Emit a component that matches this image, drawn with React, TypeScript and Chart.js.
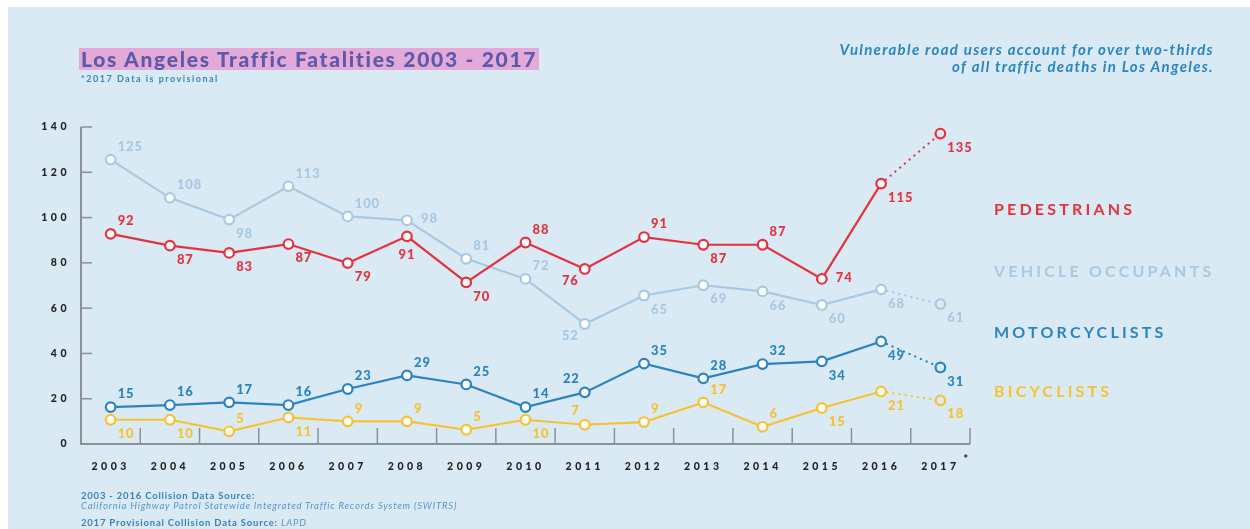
import React, { useEffect, useRef } from "react";
import { Chart, registerables } from "chart.js";

Chart.register(...registerables);

const years = ["2003", "2004", "2005", "2006", "2007", "2008", "2009", "2010", "2011", "2012", "2013", "2014", "2015", "2016", "2017"];

// plotted positions
const pedestrians = [92.8, 87.6, 84.4, 88.3, 79.9, 91.7, 71.4, 89.0, 77.3, 91.4, 88.0, 88.0, 72.9, 115.0, 137.1];
const vehicleOccupants = [125.6, 108.7, 99.1, 113.8, 100.5, 98.8, 81.8, 72.9, 53.0, 65.6, 70.1, 67.4, 61.4, 68.3, 61.8];
const motorcyclists = [16.3, 17.2, 18.4, 17.2, 24.3, 30.3, 26.3, 16.3, 22.8, 35.5, 29.0, 35.3, 36.5, 45.3, 33.8];
const bicyclists = [10.7, 10.7, 5.6, 11.7, 10.0, 10.0, 6.3, 10.7, 8.5, 9.7, 18.4, 7.6, 15.9, 23.2, 19.3];

// printed value labels
const pedestrianLabels = [92, 87, 83, 87, 79, 91, 70, 88, 76, 91, 87, 87, 74, 115, 135];
const vehicleLabels = [125, 108, 98, 113, 100, 98, 81, 72, 52, 65, 69, 66, 60, 68, 61];
const motorcyclistLabels = [15, 16, 17, 16, 23, 29, 25, 14, 22, 35, 28, 32, 34, 49, 31];
const bicyclistLabels = [10, 10, 5, 11, 9, 9, 5, 10, 7, 9, 17, 6, 15, 21, 18];

const yTicks = [0, 20, 40, 60, 80, 100, 120, 140];

// label placement codes (style, not data)
const pedPlace = ["ar", "br", "br", "br", "br", "b", "br", "ar", "bl", "ar", "br", "ar", "r", "br", "br"];
const vehPlace = ["ar", "ar", "br", "ar", "ar", "r", "ar", "ar", "bl", "br", "br", "br", "br", "br", "br"];
const motPlace = ["ar", "ar", "ar", "ar", "ar", "ar", "ar", "ar", "al", "ar", "ar", "ar", "br", "br", "br"];
const bicPlace = ["br", "br", "ar", "br", "ar", "ar", "ar", "br", "al", "ar", "ar", "ar", "br", "br", "br"];

const BG = "#d9eaf4";
const RED = "#e5323f";
const LIGHT = "#a9c8e2";
const BLUE = "#2a83c4";
const YELLOW = "#f6c232";
const AXIS = "#8b9095";
const FONT = "Lato, 'Open Sans', sans-serif";

const PLACE: Record<string, { dx: number; dy: number; align: CanvasTextAlign }> = {
  ar: { dx: 7, dy: -13, align: "left" },
  br: { dx: 7, dy: 14, align: "left" },
  r: { dx: 14, dy: -1, align: "left" },
  b: { dx: 0, dy: 18, align: "center" },
  al: { dx: -5, dy: -14, align: "right" },
  bl: { dx: -6, dy: 12, align: "right" },
};

const axisPlugin = {
  id: "axisDecor",
  beforeDraw(chart: any) {
    chart.ctx.letterSpacing = "3.5px";
  },
  beforeDatasetsDraw(chart: any) {
    const { ctx, chartArea, scales } = chart;
    const x = scales.x;
    const y = scales.y;
    ctx.save();
    ctx.letterSpacing = "0px";
    ctx.strokeStyle = AXIS;
    ctx.lineWidth = 2;
    ctx.beginPath();
    ctx.moveTo(chartArea.left, chartArea.top);
    ctx.lineTo(chartArea.left, chartArea.bottom);
    ctx.lineTo(chartArea.right, chartArea.bottom);
    ctx.stroke();
    ctx.lineWidth = 1.5;
    yTicks.forEach((v) => {
      if (v === 0) return;
      const py = y.getPixelForValue(v);
      ctx.beginPath();
      ctx.moveTo(chartArea.left, py);
      ctx.lineTo(chartArea.left + 11, py);
      ctx.stroke();
    });
    const half = (x.getPixelForValue(1) - x.getPixelForValue(0)) / 2;
    years.forEach((_, i) => {
      const px = x.getPixelForValue(i) + half;
      ctx.beginPath();
      ctx.moveTo(px, chartArea.bottom - 16);
      ctx.lineTo(px, chartArea.bottom);
      ctx.stroke();
    });
    ctx.restore();
  },
  afterDatasetsDraw(chart: any) {
    const { ctx } = chart;
    const labelSets = [pedestrianLabels, vehicleLabels, motorcyclistLabels, bicyclistLabels];
    const placeSets = [pedPlace, vehPlace, motPlace, bicPlace];
    const colors = [RED, LIGHT, BLUE, YELLOW];
    ctx.save();
    ctx.font = `900 13px ${FONT}`;
    ctx.letterSpacing = "0.9px";
    ctx.textBaseline = "middle";
    labelSets.forEach((labels, di) => {
      const meta = chart.getDatasetMeta(di);
      ctx.fillStyle = colors[di];
      labels.forEach((lab, i) => {
        const pt = meta.data[i];
        const p = PLACE[placeSets[di][i]];
        ctx.textAlign = p.align;
        ctx.fillText(String(lab), pt.x + p.dx, pt.y + p.dy);
      });
    });
    ctx.restore();
  },
  afterDraw(chart: any) {
    const { ctx, chartArea, scales } = chart;
    ctx.save();
    ctx.letterSpacing = "0px";
    ctx.fillStyle = "#222";
    ctx.font = `bold 12px ${FONT}`;
    ctx.textAlign = "left";
    ctx.textBaseline = "middle";
    ctx.fillText("*", scales.x.getPixelForValue(years.length - 1) + 23, chartArea.bottom + 15);
    ctx.restore();
    ctx.letterSpacing = "0px";
  },
};

function makeDataset(data: number[], color: string) {
  const n = data.length;
  return {
    data,
    borderColor: color,
    borderWidth: 2.2,
    borderCapStyle: "round" as const,
    pointRadius: 4.8,
    pointBorderWidth: 2.2,
    pointBorderColor: color,
    pointBackgroundColor: data.map((_, i) => (i === n - 1 ? BG : "#ffffff")),
    tension: 0,
    clip: false as const,
    segment: {
      borderDash: (c: any) => (c.p1DataIndex === n - 1 ? [0.2, 6] : undefined),
    },
  };
}

function ChartCanvas() {
  const ref = useRef<HTMLCanvasElement | null>(null);
  useEffect(() => {
    if (!ref.current) return;
    const chart = new Chart(ref.current, {
      type: "line",
      data: {
        labels: years,
        datasets: [
          makeDataset(pedestrians, RED),
          makeDataset(vehicleOccupants, LIGHT),
          makeDataset(motorcyclists, BLUE),
          makeDataset(bicyclists, YELLOW),
        ] as any,
      },
      options: {
        animation: false,
        responsive: false,
        devicePixelRatio: 1,
        layout: { padding: { left: 23, right: 280, top: 120, bottom: 45 } },
        plugins: { legend: { display: false }, tooltip: { enabled: false } },
        scales: {
          x: {
            type: "category",
            offset: true,
            grid: { display: false, drawTicks: false },
            border: { display: false },
            ticks: {
              color: "#222",
              font: { family: FONT, weight: "900", size: 10.5 },
              padding: 16,
              maxRotation: 0,
              autoSkip: false,
            },
            afterFit: (s: any) => {
              s.height = 40;
            },
          },
          y: {
            min: 0,
            max: 140,
            grid: { display: false, drawTicks: false },
            border: { display: false },
            ticks: {
              stepSize: 20,
              color: "#222",
              font: { family: FONT, weight: "900", size: 10.5 },
              padding: 11,
            },
            afterFit: (s: any) => {
              s.width = 50;
            },
          },
        },
      } as any,
      plugins: [axisPlugin],
    });
    return () => chart.destroy();
  }, []);
  return <canvas ref={ref} width={1242} height={522} style={{ position: "absolute", left: 0, top: 0, width: 1242, height: 522 }} />;
}

const legendItems = [
  { text: "PEDESTRIANS", color: RED, top: 192 },
  { text: "VEHICLE OCCUPANTS", color: LIGHT, top: 254 },
  { text: "MOTORCYCLISTS", color: BLUE, top: 315 },
  { text: "BICYCLISTS", color: YELLOW, top: 374 },
];

export default function App() {
  return (
    <div style={{ position: "fixed", left: 8, top: 7, width: 1242, height: 522, background: BG, overflow: "hidden", fontFamily: FONT }}>
      <ChartCanvas />
      <div style={{ position: "absolute", left: 71, top: 41, height: 22, lineHeight: "22px", background: "#e2a9d9", color: "#5a5aa9", fontWeight: 900, fontSize: 21, padding: "0 2px", whiteSpace: "nowrap", letterSpacing: "1.7px" }}>
        Los Angeles Traffic Fatalities 2003 - 2017
      </div>
      <div style={{ position: "absolute", left: 73, top: 66, fontSize: 9, lineHeight: "12px", fontWeight: 700, color: "#3585c5", letterSpacing: "1.5px" }}>
        *2017 Data is provisional
      </div>
      <div style={{ position: "absolute", right: 36, top: 34, textAlign: "right", fontSize: 15, lineHeight: "17px", fontWeight: 700, fontStyle: "italic", color: "#2a84c6", letterSpacing: "1.3px", whiteSpace: "nowrap" }}>
        Vulnerable road users account for over two-thirds
        <br />
        of all traffic deaths in Los Angeles.
      </div>
      {legendItems.map((it) => (
        <div key={it.text} style={{ position: "absolute", left: 986, top: it.top, fontSize: 16, lineHeight: "20px", fontWeight: 700, color: it.color, letterSpacing: "3.2px", whiteSpace: "nowrap" }}>
          {it.text}
        </div>
      ))}
      <div style={{ position: "absolute", left: 73, top: 484, fontSize: 9.5, lineHeight: "10px", color: "#3b7fc1", letterSpacing: "0.8px", whiteSpace: "nowrap" }}>
        <div style={{ fontWeight: 700 }}>2003 - 2016 Collision Data Source:</div>
        <div style={{ fontStyle: "italic", color: "#5b93c9" }}>California Highway Patrol Statewide Integrated Traffic Records System (SWITRS)</div>
        <div style={{ marginTop: 7 }}>
          <span style={{ fontWeight: 700 }}>2017 Provisional Collision Data Source: </span>
          <span style={{ fontStyle: "italic", color: "#5b93c9" }}>LAPD</span>
        </div>
      </div>
    </div>
  );
}
